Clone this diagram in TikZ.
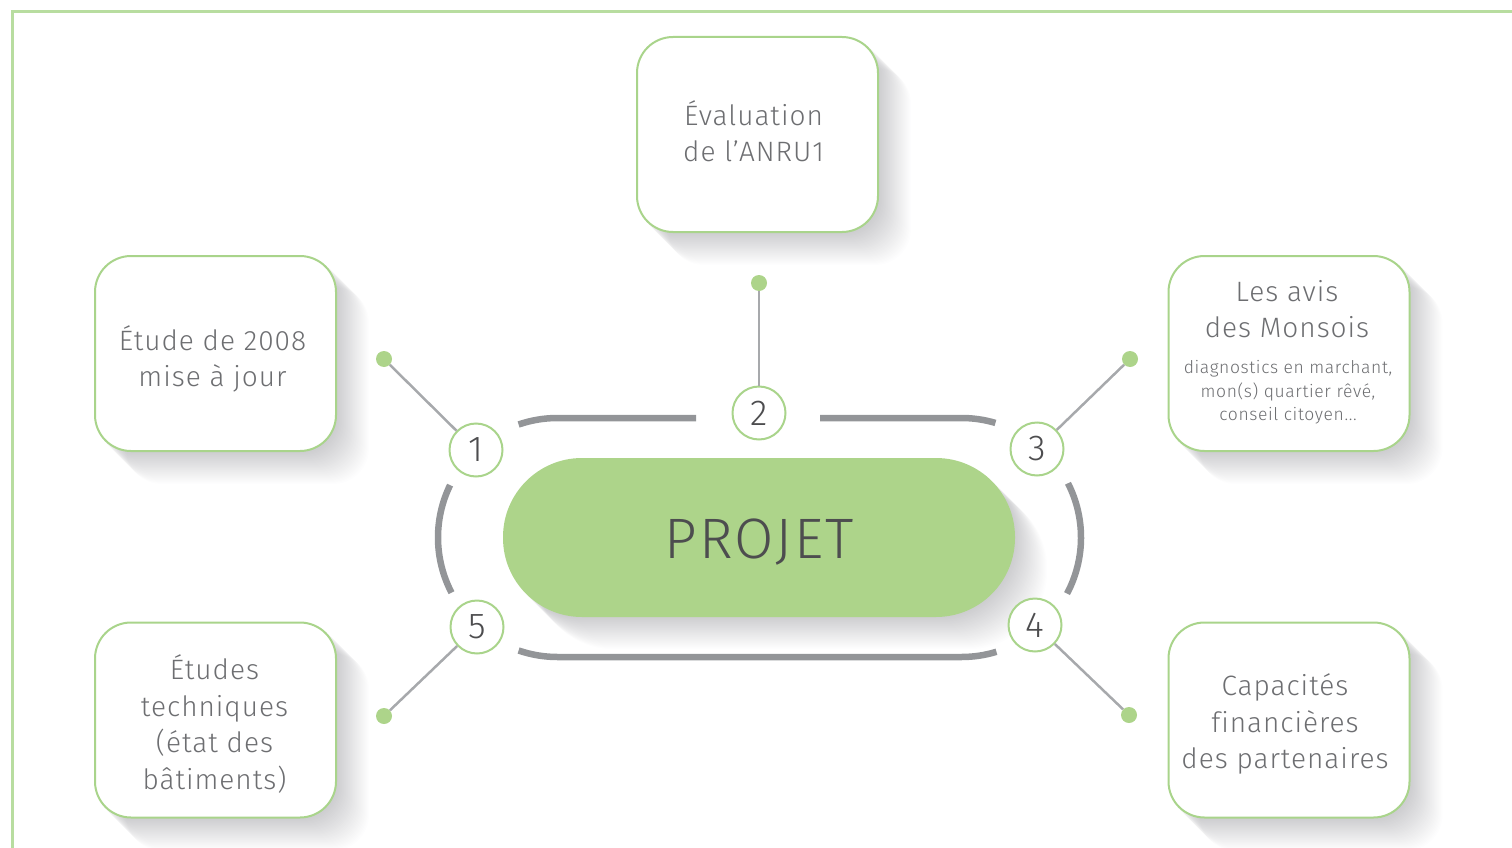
\documentclass[tikz,border=0pt]{standalone}
\usepackage{fontspec}
\setmainfont{Fira Sans}[UprightFont=* Light, LetterSpace=3.5, Ligatures=NoCommon]
\usetikzlibrary{calc,backgrounds}

\definecolor{framegreen}{HTML}{B8DDA0}
\definecolor{boxgreen}{HTML}{A9D48B}
\definecolor{pillgreen}{HTML}{ADD48A}
\definecolor{ringgray}{HTML}{939598}
\definecolor{linkgray}{HTML}{A7A9AC}
\definecolor{textgray}{HTML}{6D6E71}
\definecolor{numgray}{HTML}{4D4D4F}
\definecolor{shadowtone}{HTML}{3C3C46}

\tikzset{
  infobox/.style={draw=boxgreen, line width=2pt, fill=white, rounded corners=36pt,
    minimum width=241pt, minimum height=195pt, inner sep=0pt},
  boxtext/.style={text=textgray, align=center, inner sep=0pt,
    font=\fontsize{28}{36.5}\selectfont},
  notetext/.style={text=textgray, align=center, inner sep=0pt,
    font=\fontsize{17.5}{23.5}\selectfont},
  numcircle/.style={circle, draw=boxgreen, line width=2pt, fill=white,
    minimum size=53pt, inner sep=0pt, text=numgray, font=\fontsize{36}{36}\selectfont},
  enddot/.style={circle, fill=pillgreen, minimum size=16pt, inner sep=0pt},
  link/.style={draw=linkgray, line width=2.5pt},
  ringpart/.style={draw=ringgray, line width=6.5pt},
  pill/.style={fill=pillgreen, rounded corners=79pt, minimum width=512pt,
    minimum height=159pt, inner sep=0pt, text=numgray, text height=41pt, text depth=0pt,
    font=\fontsize{57}{57}\selectfont},
}

% long soft shadow cast towards the lower right of a rounded node
\newcommand{\castshadow}[2]{%
  \foreach \k in {1,...,32}{%
    \fill[shadowtone, opacity=0.0085, rounded corners=#2]
      ([shift={(\k,\k)}]#1.north west) rectangle ([shift={(\k,\k)}]#1.south east);
  }}

\begin{document}
\begin{tikzpicture}[x=1pt, y=-1pt]
\useasboundingbox (0,0) rectangle (1512,848);

% outer frame
\draw[framegreen, line width=3pt] (12.5,848) -- (12.5,11.5) -- (1512,11.5);

% central project
\node[pill] (projet) at (759,537.5) {PROJET};

% surrounding boxes
\node[infobox] (b2) at (757.5,134.5) {};
\node[infobox] (b1) at (215.5,353.5) {};
\node[infobox] (b3) at (1289,353.5) {};
\node[infobox] (b5) at (215.5,720) {};
\node[infobox] (b4) at (1289,720) {};

% box contents
\node[boxtext] (t2) at ($(b2)+(-4,-3.5)$) {Évaluation\\de l’ANRU1};
\node[boxtext] (t1) at ($(b1)+(-3,5.5)$) {Étude de 2008\\mise à jour};
\node[boxtext] (t3) at ($(b3)+(-2,-44.5)$) {Les avis\\des Monsois};
\node[notetext] (t3note) at ($(b3)+(-1,39)$) {diagnostics en marchant,\\mon(s) quartier rêvé,\\conseil citoyen...};
\node[boxtext] (t5) at ($(b5)+(-1,4)$) {Études\\techniques\\(état des\\bâtiments)};
\node[boxtext] (t4) at ($(b4)+(-4,4)$) {Capacités\\financières\\des partenaires};

% shadows behind everything
\begin{pgfonlayer}{background}
  \castshadow{projet}{79pt}
  \castshadow{b1}{36pt}
  \castshadow{b2}{36pt}
  \castshadow{b3}{36pt}
  \castshadow{b4}{36pt}
  \castshadow{b5}{36pt}
\end{pgfonlayer}

% broken ring around the project
\coordinate (lc) at (557.5,537.5);
\coordinate (rc) at (961.5,537.5);
\def\rr{119.5}
\draw[ringpart] ($(lc)+(-109:\rr)$) arc[start angle=-109, end angle=-90, radius=\rr] -- (696,418);
\draw[ringpart] (820,418) -- (961.5,418) arc[start angle=-90, end angle=-73.5, radius=\rr];
\draw[ringpart] ($(rc)+(-27:\rr)$) arc[start angle=-27, end angle=28, radius=\rr];
\draw[ringpart] ($(rc)+(73:\rr)$) arc[start angle=73, end angle=90, radius=\rr]
  -- ($(lc)+(90:\rr)$) arc[start angle=90, end angle=109, radius=\rr];
\draw[ringpart] ($(lc)+(-154:\rr)$) arc[start angle=-154, end angle=-207.5, radius=\rr];

% numbered markers
\node[numcircle] (c1) at (476,450) {1};
\node[numcircle] (c2) at (759,413) {2};
\node[numcircle] (c3) at (1037,449) {3};
\node[numcircle] (c4) at (1035,625) {4};
\node[numcircle] (c5) at (477,627) {5};

% end dots
\node[enddot] (d1) at (384,359) {};
\node[enddot] (d2) at (759,283) {};
\node[enddot] (d3) at (1130,359) {};
\node[enddot] (d4) at (1129,715) {};
\node[enddot] (d5) at (384,716) {};

% connectors
\draw[link] (d1) -- (c1);
\draw[link] (d2) -- (c2);
\draw[link] (d3) -- (c3);
\draw[link] (d4) -- (c4);
\draw[link] (d5) -- (c5);
\end{tikzpicture}
\end{document}
